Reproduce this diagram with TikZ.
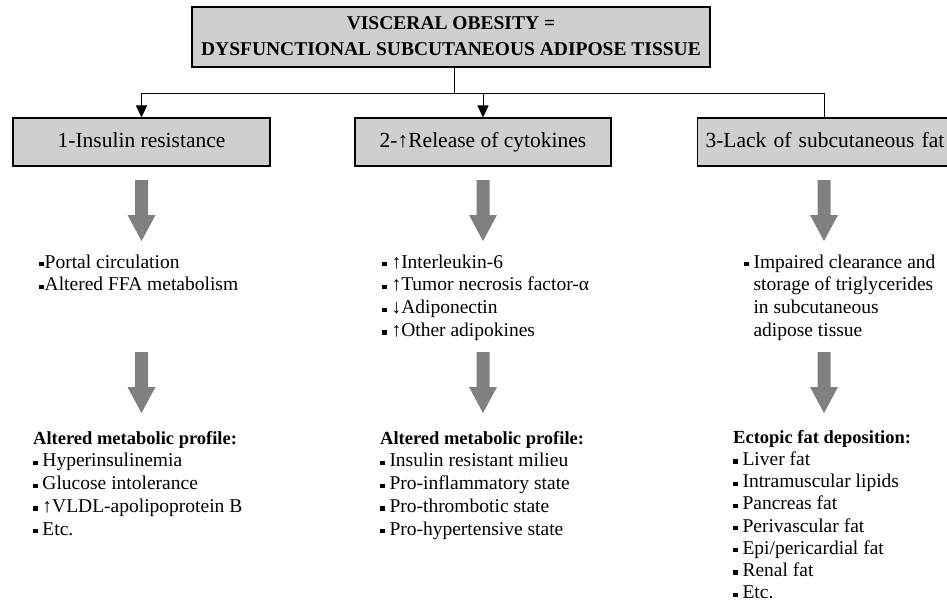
\documentclass[tikz,border=0pt]{standalone}
\usepackage{fontspec}
\setmainfont{Liberation Serif}
\usetikzlibrary{arrows.meta}
\definecolor{boxgray}{HTML}{CFCFCF}
\definecolor{fatgray}{HTML}{808080}
\newcommand\bul{\rule[0.2ex]{4.3pt}{4.3pt}\hspace{5pt}}
\newcommand\bulc{\rule[0.2ex]{4.3pt}{4.3pt}\hspace{1.2pt}}
\newcommand\heading[1]{{\fontsize{18.5}{22.7}\selectfont\bfseries #1}}
\tikzset{
  headbox/.style={draw=black, line width=1.1pt, fill=boxgray, inner sep=0pt},
  causebox/.style={draw=black, line width=1.1pt, fill=boxgray, inner sep=0pt,
    minimum height=48pt, text height=15pt, text depth=4.5pt,
    font=\fontsize{21.5}{26}\selectfont},
  listtext/.style={anchor=north west, align=left, inner sep=0pt,
    font=\fontsize{19.5}{22.7}\selectfont},
  link/.style={draw=black, line width=1pt},
  tip/.style={-{Triangle[length=12pt,width=11pt]}},
  pics/fatarrow/.style={code={
    \fill[fatgray] (-6.5,0) -- (6.5,0) -- (6.5,35) -- (14,35) -- (0,61)
      -- (-14,35) -- (-6.5,35) -- cycle;}}
}
\begin{document}
\begin{tikzpicture}[x=1pt, y=-1pt]
\useasboundingbox (0,0) rectangle (947,602);
\clip (0,0) rectangle (947,602);

% title box
\node[headbox, minimum width=518pt, minimum height=60pt] (title) at (451,37) {};
\node[font=\fontsize{19.5}{26}\selectfont\bfseries, align=center, inner sep=0pt]
  (titletext) at (451,36) {VISCERAL OBESITY =\\DYSFUNCTIONAL SUBCUTANEOUS ADIPOSE TISSUE};

% three mechanisms
\node[causebox, minimum width=257pt] (c1) at (141.5,142) {1-Insulin resistance};
\node[causebox, minimum width=256pt] (c2) at (483,142) {2-↑Release of cytokines};
\node[causebox, anchor=west, text width=250pt, align=left, inner xsep=8pt] (c3) at (697,142)
  {3-Lack of subcutaneous fat};

% branching connectors
\coordinate (split) at (454,93);
\coordinate (bar1) at (141.5,93);
\coordinate (bar2) at (483,93);
\coordinate (bar3) at (824,93);
\draw[link] (title.south -| split) -- (split);
\draw[link] (bar1) -- (bar3);
\draw[link, tip] (bar1) -- (c1.north);
\draw[link, tip] (bar2) -- (c2.north);
\draw[link] (bar3) -- (bar3 |- c3.north);

% broad grey arrows
\foreach \x in {141.5,483,824} {
  \pic at (\x,180) {fatarrow};
  \pic at (\x,352) {fatarrow};
}

% intermediate lists
\node[listtext] (m1) at (39,254.5) {\bulc Portal circulation\\\bulc Altered FFA metabolism};
\node[listtext] (m2) at (382,254.5) {\bul ↑Interleukin-6\\\bul ↑Tumor necrosis factor-α\\\bul ↓Adiponectin\\\bul ↑Other adipokines};
\node[listtext] (m3) at (744,254.5) {\bul Impaired clearance and\\\hphantom{\bul}storage of triglycerides\\\hphantom{\bul}in subcutaneous\\\hphantom{\bul}adipose tissue};

% outcome lists
\node[listtext] (o1) at (33,431) {\heading{Altered metabolic profile:}\\\bul Hyperinsulinemia\\\bul Glucose intolerance\\\bul ↑VLDL-apolipoprotein B\\\bul Etc.};
\node[listtext] (o2) at (380,431) {\heading{Altered metabolic profile:}\\\bul Insulin resistant milieu\\\bul Pro-inflammatory state\\\bul Pro-thrombotic state\\\bul Pro-hypertensive state};
\node[listtext, font=\fontsize{19.5}{22.2}\selectfont] (o3) at (733,430) {\heading{Ectopic fat deposition:}\\\bul Liver fat\\\bul Intramuscular lipids\\\bul Pancreas fat\\\bul Perivascular fat\\\bul Epi/pericardial fat\\\bul Renal fat\\\bul Etc.};
\end{tikzpicture}
\end{document}
